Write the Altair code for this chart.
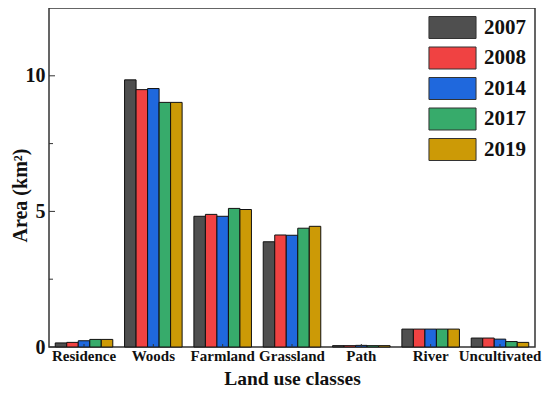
import altair as alt
import pandas as pd

categories = ["Residence", "Woods", "Farmland", "Grassland", "Path", "River", "Uncultivated"]
years = ["2007", "2008", "2014", "2017", "2019"]
values = {
    "2007": [0.15, 9.85, 4.82, 3.88, 0.05, 0.66, 0.33],
    "2008": [0.17, 9.49, 4.89, 4.13, 0.05, 0.66, 0.33],
    "2014": [0.23, 9.53, 4.82, 4.12, 0.06, 0.66, 0.29],
    "2017": [0.28, 9.02, 5.11, 4.38, 0.05, 0.66, 0.20],
    "2019": [0.28, 9.02, 5.07, 4.45, 0.05, 0.66, 0.17],
}
colors = ["#4f4f4f", "#f04242", "#1f68dd", "#37ab6b", "#cc9a06"]
major_ticks = [0, 5, 10]
minor_ticks = [2.5, 7.5]

rows = []
for y in years:
    for c, v in zip(categories, values[y]):
        rows.append({"cls": c, "year": y, "area": v})
df = pd.DataFrame(rows)

FONT = "Liberation Serif"
H = 339
yscale = alt.Scale(domain=[0, 12.5], nice=False)

bars = alt.Chart(df).mark_bar(stroke="#111111", strokeWidth=1).encode(
    x=alt.X("cls:N", sort=categories, title="Land use classes",
            scale=alt.Scale(paddingInner=0.17, paddingOuter=0.09),
            axis=alt.Axis(labelAngle=0, labelFont=FONT, labelFontSize=15, labelFontWeight="bold",
                          labelColor="#111", titleFont=FONT, titleFontSize=19.5, titleFontWeight="bold",
                          titleColor="#111", ticks=False, domain=False, labelPadding=1,
                          titleY=37, titleBaseline="alphabetic")),
    xOffset=alt.XOffset("year:N", sort=years),
    y=alt.Y("area:Q", title="Area (km²)", scale=yscale,
            axis=alt.Axis(values=major_ticks, format="d", labelFont=FONT, labelFontSize=20,
                          labelFontWeight="bold", labelColor="#111", titleFont=FONT, titleFontSize=20,
                          titleFontWeight="bold", titleColor="#111", ticks=False,
                          domain=False, grid=False, labelPadding=4,
                          titleX=-19, titleY=187, titleAngle=270, titleAlign="center",
                          titleBaseline="bottom")),
    color=alt.Color("year:N", sort=years, scale=alt.Scale(domain=years, range=colors),
                    legend=alt.Legend(title=None, orient="none", legendX=392, legendY=8, padding=0,
                                      symbolType="M-2.14,-1H2.14V1H-2.14Z", symbolSize=484,
                                      symbolStrokeColor="#333", symbolStrokeWidth=1,
                                      symbolOpacity=1, labelFont=FONT, labelFontSize=21,
                                      labelFontWeight="bold", labelColor="#111",
                                      rowPadding=3.5, labelOffset=20)),
)

ytick_major = alt.Chart(pd.DataFrame({"v": major_ticks})).mark_rule(color="#333", strokeWidth=1).encode(
    y=alt.Y("v:Q", scale=yscale), x=alt.value(0), x2=alt.value(6),
)
ytick_minor = alt.Chart(pd.DataFrame({"v": minor_ticks})).mark_rule(color="#333", strokeWidth=1).encode(
    y=alt.Y("v:Q", scale=yscale), x=alt.value(0), x2=alt.value(4),
)
xtick = alt.Chart(pd.DataFrame({"cls": categories})).mark_rule(color="#333", strokeWidth=1).encode(
    x=alt.X("cls:N", sort=categories), y=alt.value(H - 3), y2=alt.value(H),
)

chart = alt.layer(bars, ytick_major, ytick_minor, xtick).properties(
    width=486, height=H,
    autosize=alt.AutoSizeParams(type="none"),
    padding={"left": 41, "top": 0, "right": 7, "bottom": 41},
).configure_view(stroke="#333", strokeWidth=1.5)

chart.save("out.html", embed_options={"renderer": "svg", "actions": False})
